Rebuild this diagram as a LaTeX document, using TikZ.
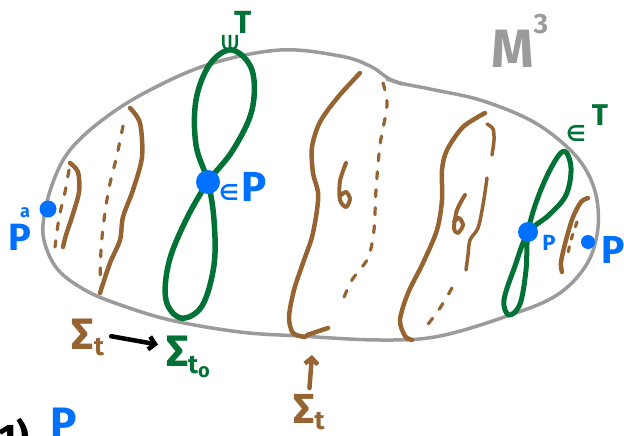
\documentclass[tikz,border=0pt]{standalone}
\usepackage{fontspec}
\setmainfont{Fira Sans}
\newfontfamily\symfont{DejaVu Sans}
\usetikzlibrary{arrows.meta,positioning}
\definecolor{shellgray}{RGB}{155,155,155}
\definecolor{loopgreen}{RGB}{0,114,54}
\definecolor{slicebrown}{RGB}{150,100,50}
\definecolor{ptblue}{RGB}{0,112,255}
\newcommand{\fs}[1]{\fontsize{#1}{#1}\selectfont}
\tikzset{
  shell/.style={draw=shellgray, line width=3.5pt},
  loopT/.style={draw=loopgreen, line width=5.5pt},
  slice/.style={draw=slicebrown, line width=4.5pt},
  slicedash/.style={draw=slicebrown, line width=3.2pt, dash pattern=on 7pt off 11pt},
  ptdot/.style={circle, fill=ptblue, inner sep=0pt, minimum size=#1},
  ptdot/.default=16pt,
  lbl/.style={inner sep=0pt, font=\bfseries},
  handarrow/.style={-{Straight Barb[length=6pt,width=13pt]}, line width=4.5pt}
}

\begin{document}
\begin{tikzpicture}[x=1pt, y=-1pt, line cap=round, line join=round]
    \useasboundingbox (0,0) rectangle (624,436);
    \clip (0,0) rectangle (624,436);

    % the manifold M^3
    \draw[shell] plot[smooth cycle, tension=0.6] coordinates {
        (43,225) (47,250) (60,272) (85,290) (115,303) (170,320) (240,332)
        (300,336) (380,340) (440,336) (513,314) (557,295) (585,267)
        (597,235) (597,200) (586,170) (565,145) (530,120) (480,100)
        (430,89) (394,81) (370,66) (340,56) (280,50) (210,64) (150,90)
        (105,118) (70,150) (52,185)};
    \draw[shell] (387,79) -- (402,84);

    % slices Sigma_t
    \draw[slice] plot[smooth] coordinates {(70,163) (78,172) (79,192) (72,217) (66,235) (63,247)};
    \draw[slicedash] plot[smooth] coordinates {(69,170) (65,192) (59,218) (55,247)};

    \draw[slice] plot[smooth] coordinates {(130,108) (140,123) (142,157) (133,190) (123,217) (120,240) (110,263) (100,293)};
    \draw[slicedash] plot[smooth] coordinates {(123,126) (117,155) (109,188) (104,220) (101,250) (100,285)};

    \draw[slice] plot[smooth] coordinates {(360,73) (338,97) (320,122) (312,147) (313,173) (318,192)
        (317,210) (312,237) (303,263) (294,290) (289,317) (293,333) (305,337)};
    \draw[slice] (307,335) -- (328,328);
    \draw[slicedash] plot[smooth] coordinates {(383,83) (387,105) (380,145) (376,190) (374,230) (368,258) (352,280) (342,302)};
    \draw[slice, line width=4pt] plot[smooth] coordinates {(346,163) (340,181) (340,200) (346,207) (350,199) (346,192) (340,196)};

    \draw[slice] plot[smooth] coordinates {(485,113) (463,127) (447,150) (442,170) (442,200) (437,230)
        (423,263) (408,293) (400,320) (405,336) (412,340)};
    \draw[slice, line width=3.5pt] plot[smooth] coordinates {(487,124) (493,129) (494,140) (492,155)};
    \draw[slice, line width=3.5pt] plot[smooth] coordinates {(487,178) (483,205) (478,228) (470,240) (468,255) (466,270)};
    \draw[slicedash] plot[smooth] coordinates {(452,288) (440,308) (423,331)};
    \draw[slice, line width=4pt] plot[smooth] coordinates {(465,195) (457,210) (454,228) (458,233) (463,225) (459,218) (454,222)};

    \draw[slice] plot[smooth] coordinates {(588,198) (581,202) (573,217) (566,240) (561,262) (562,272)};
    \draw[slicedash, dash pattern=on 5pt off 8pt] plot[smooth] coordinates {(577,222) (571,240) (567,258)};

    % the loops T
    \draw[loopT] plot[smooth cycle, tension=0.6] coordinates {
        (208,182) (196,145) (196,100) (210,64) (232,50) (252,70) (252,110)
        (233,150) (208,182) (186,220) (169,262) (166,300) (181,318)
        (202,306) (214,265) (214,220)};
    \draw[loopT, line width=5pt] plot[smooth cycle, tension=0.6] coordinates {
        (528,233) (537,200) (551,168) (564,151) (571,168) (566,195)
        (549,215) (528,233) (515,266) (504,300) (509,315) (520,304)
        (526,270)};

    % points of P
    \node[ptdot=24pt] (pmid) at (208,182) {};
    \node[ptdot=20pt] (pright) at (528,232) {};
    \node[ptdot=17pt] (pleft) at (48,209) {};
    \node[ptdot=14pt] (pedge) at (588,242) {};

    % labels
    \node[lbl, text=shellgray, font=\bfseries\fs{54}] (mlabel) at (513,49) {M};
    \node[lbl, text=shellgray, font=\bfseries\fs{28}] (mexp) at (541,24) {3};

    \node[lbl, text=loopgreen, font=\bfseries\fs{32}] (tmid) at (243,22) {T};
    \node[lbl, text=loopgreen, font=\symfont\bfseries\fs{22}, rotate=90] (inmid) at (230,44) {∈};
    \node[lbl, text=loopgreen, font=\bfseries\fs{30}] (tright) at (600,115) {T};
    \node[lbl, text=loopgreen, font=\symfont\bfseries\fs{22}] (inright) at (576,133) {∈};

    \node[lbl, text=ptblue, font=\symfont\bfseries\fs{22}] (inp) at (229,192) {∈};
    \node[lbl, text=ptblue, font=\bfseries\fs{42}] (pmidlbl) at (254,187) {P};
    \node[lbl, text=ptblue, font=\bfseries\fs{22}] (prightlbl) at (549,243) {P};
    \node[lbl, text=ptblue, font=\bfseries\fs{39}] (pedgelbl) at (613,250) {P};
    \node[lbl, text=ptblue, font=\bfseries\fs{38}] (pleftlbl) at (20,237) {P};
    \node[lbl, text=ptblue, font=\bfseries\fs{18}] (pleftmark) at (25,213) {a};

    \node[lbl, text=slicebrown, font=\bfseries\fs{44}] (stleft) at (88,337)
        {Σ\raisebox{-6pt}{\fs{26}t}};
    \node[lbl, text=loopgreen, font=\bfseries\fs{44}] (stzero) at (188,357)
        {Σ\raisebox{-7pt}{\fs{26}t\raisebox{-4pt}{\fs{20}o}}};
    \draw[handarrow, shorten <=7pt, shorten >=8pt]
        ([yshift=2pt]stleft.east) -- ([yshift=11pt]stzero.west);

    \node[lbl, text=slicebrown, font=\bfseries\fs{42}] (stbottom) at (309,412)
        {Σ\raisebox{-6pt}{\fs{26}t}};
    \coordinate (sttip) at (312,355);
    \draw[handarrow, slicebrown, shorten <=6pt] (stbottom.north) -- (sttip);

    \node[lbl, font=\bfseries\fs{40}, anchor=base west] (stepone) at (-2,452) {1)};
    \node[lbl, text=ptblue, font=\bfseries\fs{44}, anchor=base west] (pbottom) at (50,438) {P};
\end{tikzpicture}
\end{document}
